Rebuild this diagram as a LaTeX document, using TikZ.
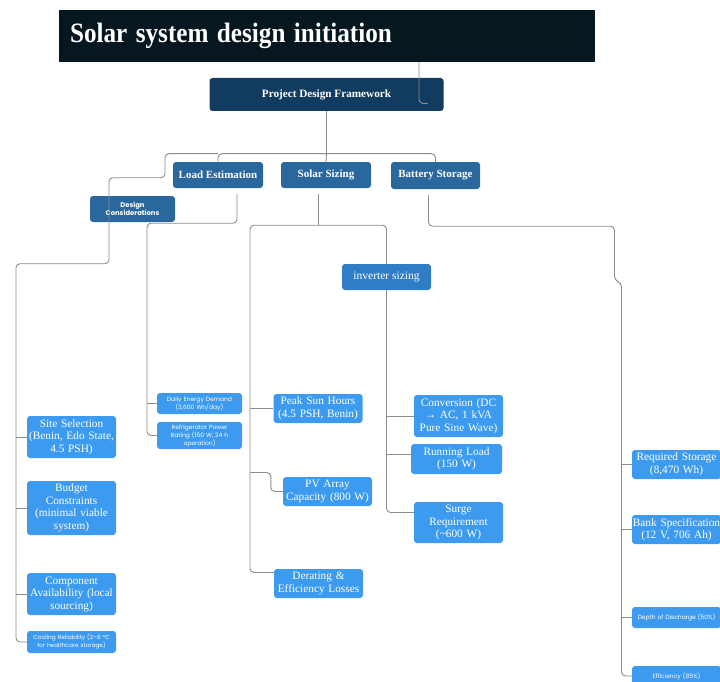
\documentclass[tikz,border=0pt]{standalone}
\usepackage{graphicx}
\usepackage{fontspec}
\setmainfont{Liberation Serif}
\newfontfamily\popfont{Poppins}
\usetikzlibrary{positioning}

\definecolor{titlebg}{HTML}{06171F}
\definecolor{rootbg}{HTML}{123B60}
\definecolor{topicbg}{HTML}{2A679D}
\definecolor{invbg}{HTML}{2F7DC4}
\definecolor{leafbg}{HTML}{3D9BEF}
\definecolor{linegray}{HTML}{8C8C8C}

\begin{document}
\begin{tikzpicture}[x=1pt, y=-1pt,
  every node/.style={rounded corners=3pt, text=white, align=center, inner xsep=0pt, inner ysep=1pt},
  headbar/.style={fill=titlebg, rounded corners=0pt, minimum height=52pt, text width=514pt, inner xsep=11pt, align=left, font=\fontsize{28}{30}\selectfont\bfseries},
  rootbox/.style={fill=rootbg, minimum width=234pt, minimum height=33pt, font=\fontsize{11.2}{13}\selectfont\bfseries},
  topicbox/.style={fill=topicbg, minimum width=90pt, minimum height=26pt, font=\fontsize{11}{13}\selectfont\bfseries},
  invbox/.style={fill=invbg, minimum width=89pt, minimum height=26pt, font=\fontsize{11.5}{13}\selectfont},
  leafbox/.style={fill=leafbg, text width=89pt, font=\fontsize{11.3}{12.5}\selectfont},
  tinybox/.style={fill=leafbg, text width=85pt, font=\popfont\fontsize{6}{8}\selectfont},
  link/.style={draw=linegray, line width=0.9pt, rounded corners=4pt}]

\useasboundingbox (0,0) rectangle (720,682);
\clip (0,0) rectangle (720,682);

% Header
\node[headbar] (title) at (327,36) {\scalebox{0.9}[1]{Solar system design initiation}};
\node[rootbox] (pdf) at (326.5,94.5) {Project Design Framework};

% Main branches
\node[topicbox] (loadest) at (218,175) {Load Estimation};
\node[topicbox] (solarsz) at (326,175) {Solar Sizing};
\node[topicbox, minimum width=89pt, minimum height=27pt] (battery) at (435.5,175.5) {Battery Storage};
\node[topicbox, minimum width=85pt, font=\popfont\fontsize{6.8}{8.5}\selectfont\bfseries] (design) at (132.5,209) {Design\\Considerations};
\node[invbox] (inverter) at (386.5,277) {inverter sizing};

% Design considerations
\node[leafbox, minimum height=42pt] (site) at (71.5,437) {Site Selection\\(Benin, Edo State,\\4.5 PSH)};
\node[leafbox, minimum height=54pt] (budget) at (71.5,508) {Budget\\Constraints\\(minimal viable\\system)};
\node[leafbox, minimum height=42pt] (component) at (71.5,594) {Component\\Availability (local\\sourcing)};
\node[tinybox, text width=89pt, minimum height=22pt, font=\popfont\fontsize{5.8}{8}\selectfont] (cooling) at (71.5,642) {Cooling Reliability (2–8 °C\\for healthcare storage)};

% Load estimation
\node[tinybox, minimum height=21pt] (daily) at (199.5,403.5) {Daily Energy Demand\\(3,600 Wh/day)};
\node[tinybox, minimum height=27pt] (fridge) at (199.5,435.5) {Refrigerator Power\\Rating (150 W, 24 h\\operation)};

% Solar sizing
\node[leafbox, minimum height=29pt] (peak) at (318,408.5) {Peak Sun Hours\\(4.5 PSH, Benin)};
\node[leafbox, minimum height=29pt] (pvarray) at (327.5,491.5) {PV Array\\Capacity (800 W)};
\node[leafbox, minimum height=29pt] (derating) at (318.5,583.5) {Derating \&\\Efficiency Losses};

% Inverter sizing
\node[leafbox, minimum height=42pt] (conversion) at (458.5,416) {Conversion (DC\\→ AC, 1 kVA\\Pure Sine Wave)};
\node[leafbox, text width=91pt, minimum height=30pt] (running) at (456.5,459) {Running Load\\(150 W)};
\node[leafbox, minimum height=41pt] (surge) at (458.5,522.5) {Surge\\Requirement\\(\textasciitilde600 W)};

% Battery storage
\node[leafbox, minimum height=29pt] (reqstor) at (676.5,464.5) {Required Storage\\(8,470 Wh)};
\node[leafbox, minimum height=29pt] (bankspec) at (676.5,529.5) {Bank Specification\\(12 V, 706 Ah)};
\node[tinybox, text width=89pt, minimum height=21pt] (dod) at (676.5,617.5) {Depth of Discharge (50\%)};
\node[tinybox, text width=89pt, minimum height=20pt] (eff) at (676.5,676) {Efficiency (85\%)};

% Connectors
\draw[link] ([xshift=92pt]title.south) |- ([xshift=101pt,yshift=-9pt]pdf.center);
\draw[link] (pdf.south) -- ++(0,42.5) coordinate (bus) -- (solarsz.north);
\draw[link] (bus) -| (battery.north);
\draw[link] (bus) -| (loadest.north);
\draw[link] (bus -| loadest.north) -| ++(-53,24) -| ++(-56,86) -- ++(-93,0) coordinate (dcspine) |- (cooling.west);
\foreach \n in {site,budget,component}
  \draw[link] (\n.west) -- (\n.west -| dcspine);

\draw[link, shorten <=6pt] ([xshift=19pt]loadest.south) |- ++(-90,35) coordinate (lespine) |- (fridge.west);
\draw[link] (daily.west) -- (daily.west -| lespine);

\draw[link, shorten <=6pt] ([xshift=-8pt]solarsz.south) -- ++(0,37) coordinate (ssfork);
\draw[link] (ssfork) -| (inverter.north);
\draw[link] (ssfork) -| ++(-68,40) coordinate (sspine) |- ([yshift=11pt]derating.west);
\draw[link] (peak.west) -- (peak.west -| sspine);
\draw[link] (pvarray.west) -| ++(-12,-19) coordinate (pvbend) -- (pvbend -| sspine);

\draw[link] (inverter.south) |- ([yshift=10pt]surge.west);
\draw[link] (conversion.west) -- (conversion.west -| inverter.south);
\draw[link] ([yshift=5pt]running.west) -- ([yshift=5pt]running.west -| inverter.south);

\draw[link, shorten <=6pt] ([xshift=-7pt]battery.south) |- ++(186,37) -- ++(0,54) -- ++(7,3) coordinate (bspine) |- (eff.west);
\foreach \n in {reqstor,bankspec,dod}
  \draw[link] (\n.west) -- (\n.west -| bspine);

\end{tikzpicture}
\end{document}
